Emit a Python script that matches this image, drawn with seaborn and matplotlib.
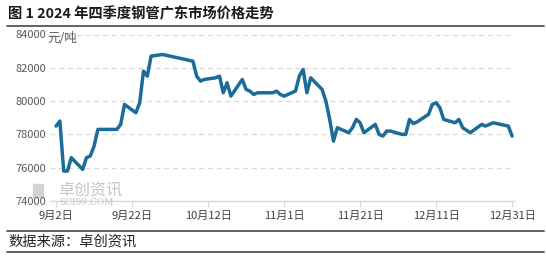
import matplotlib
matplotlib.use("Agg")
import matplotlib.pyplot as plt
from matplotlib.lines import Line2D
from matplotlib.patches import Rectangle
import seaborn as sns
import pandas as pd

dates = [
    "2024-09-02", "2024-09-03", "2024-09-04", "2024-09-05", "2024-09-06",
    "2024-09-09", "2024-09-10", "2024-09-11", "2024-09-12", "2024-09-13",
    "2024-09-14", "2024-09-18", "2024-09-19", "2024-09-20",
    "2024-09-23", "2024-09-24", "2024-09-25", "2024-09-26", "2024-09-27",
    "2024-09-30",
    "2024-10-08", "2024-10-09", "2024-10-10", "2024-10-11",
    "2024-10-14", "2024-10-15", "2024-10-16", "2024-10-17", "2024-10-18",
    "2024-10-21", "2024-10-22", "2024-10-23", "2024-10-24", "2024-10-25",
    "2024-10-28", "2024-10-29", "2024-10-30", "2024-10-31", "2024-11-01",
    "2024-11-04", "2024-11-05", "2024-11-06", "2024-11-07", "2024-11-08",
    "2024-11-11", "2024-11-12", "2024-11-13", "2024-11-14", "2024-11-15",
    "2024-11-18", "2024-11-19", "2024-11-20", "2024-11-21", "2024-11-22",
    "2024-11-25", "2024-11-26", "2024-11-27", "2024-11-28", "2024-11-29",
    "2024-12-02", "2024-12-03", "2024-12-04", "2024-12-05", "2024-12-06",
    "2024-12-09", "2024-12-10", "2024-12-11", "2024-12-12", "2024-12-13",
    "2024-12-16", "2024-12-17", "2024-12-18", "2024-12-19", "2024-12-20",
    "2024-12-23", "2024-12-24", "2024-12-25", "2024-12-26", "2024-12-27",
    "2024-12-30", "2024-12-31",
]
prices = [
    78500, 78800, 75800, 75800, 76600,
    75900, 76600, 76700, 77300, 78300,
    78300, 78300, 78600, 79800,
    79300, 79900, 81800, 81500, 82700,
    82800,
    82400, 81500, 81200, 81300,
    81400, 81500, 80500, 81100, 80300,
    81300, 80700, 80600, 80400, 80500,
    80500, 80500, 80600, 80400, 80300,
    80600, 81500, 81900, 80500, 81400,
    80700, 80000, 78900, 77600, 78400,
    78100, 78400, 78900, 78700, 78100,
    78600, 78000, 77900, 78200, 78200,
    78000, 78000, 78900, 78650, 78750,
    79200, 79800, 79900, 79600, 78900,
    78700, 78900, 78400, 78250, 78100,
    78600, 78500, 78600, 78700, 78650,
    78500, 77900,
]
y_ticks = [74000, 76000, 78000, 80000, 82000, 84000]
x_tick_labels = ["9月2日", "9月22日", "10月12日", "11月1日", "11月21日", "12月11日", "12月31日"]

title_text = "图 1 2024 年四季度钢管广东市场价格走势"
unit_text = "元/吨"
source_text = "数据来源：卓创资讯"

df = pd.DataFrame({"date": pd.to_datetime(dates), "price": prices})

sns.set_theme(style="white")
plt.rcParams["font.family"] = ["Noto Sans CJK SC", "DejaVu Sans"]

W, H = 546, 256
fig = plt.figure(figsize=(W / 100, H / 100), dpi=100)
ax = fig.add_axes([50 / W, 1 - 201 / H, (514 - 50) / W, (201 - 34.5) / H])

sns.lineplot(data=df, x="date", y="price", ax=ax, color="#1b6c99", linewidth=2.5)

start = pd.Timestamp("2024-09-02")
ax.set_xlim(start - pd.Timedelta(days=1.6), start + pd.Timedelta(days=120.5))
ax.set_ylim(74000, 84000)
ax.set_yticks(y_ticks)
ax.set_yticklabels([str(v) for v in y_ticks])
tick_dates = [start + pd.Timedelta(days=20 * i) for i in range(len(x_tick_labels))]
ax.set_xticks(tick_dates)
ax.set_xticklabels(x_tick_labels)

ax.set_xlabel("")
ax.set_ylabel("")
for s in ["top", "right", "left"]:
    ax.spines[s].set_visible(False)
ax.spines["bottom"].set_color("#d9d9d9")
ax.spines["bottom"].set_linewidth(1.0)

ax.grid(axis="y", linestyle=(0, (4, 3)), color="#d9d9d9", linewidth=0.9)
ax.grid(axis="x", visible=False)
ax.set_axisbelow(True)

ax.tick_params(axis="y", length=0, pad=3, labelsize=8, labelcolor="#595959")
ax.tick_params(axis="x", length=4, width=0.8, color="#d9d9d9", direction="out",
               pad=3, labelsize=8, labelcolor="#404040")
ax.xaxis.set_tick_params(bottom=True)

# unit label
fig.text(47 / W, 1 - 39 / H, unit_text, fontsize=9, color="#595959", ha="left", va="center")

# title and frame lines
fig.text(8 / W, 1 - 14 / H, title_text, fontsize=10.3, fontweight="bold", color="#1a1a1a",
         ha="left", va="center")
for yy in [25.5, 230.5, 251.5]:
    fig.add_artist(Line2D([7 / W, 544 / W], [1 - yy / H, 1 - yy / H], color="#555555",
                          linewidth=1.3, transform=fig.transFigure))
fig.text(8 / W, 1 - 241.5 / H, source_text, fontsize=10.3, color="#222222", ha="left", va="center")

# watermark
fig.add_artist(Rectangle((33 / W, 1 - 197 / H), 10 / W, 13 / H, transform=fig.transFigure,
                         color="#cfcfcf", alpha=0.9, zorder=0))
fig.text(58 / W, 1 - 190 / H, "卓创资讯", fontsize=11.5, color="#c4c4c4", ha="left", va="center")
fig.text(59 / W, 1 - 202.5 / H, "SCI99.COM", fontsize=6.5, color="#c4c4c4", ha="left",
         va="center", family="DejaVu Serif")

fig.savefig("out.png", dpi=100)
